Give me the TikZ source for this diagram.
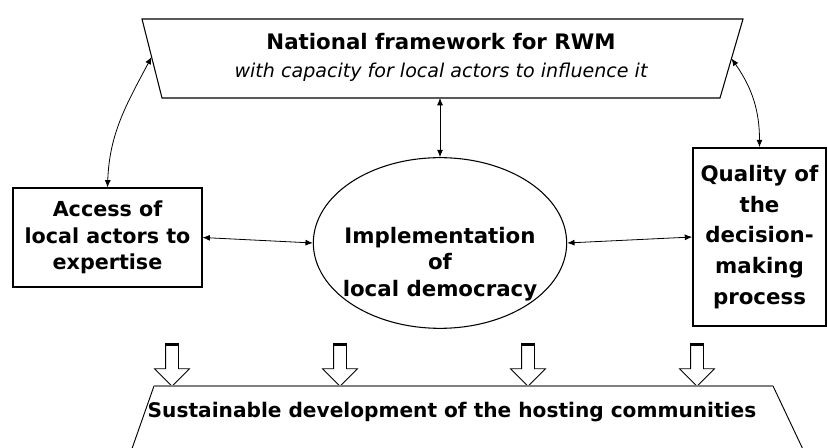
\documentclass[tikz,border=0pt]{standalone}
\usepackage{fontspec}
\setmainfont{DejaVu Sans}
\usetikzlibrary{shapes.geometric,shapes.arrows,arrows.meta,calc}
\begin{document}
\begin{tikzpicture}[x=0.75pt,y=-0.75pt,
    bold/.style={align=center,font=\bfseries\fontsize{15.5}{20}\selectfont},
    box/.style={bold,draw,line width=0.8pt,inner sep=0pt},
    link/.style={{Latex[length=5.5pt,width=4.5pt]}-{Latex[length=5.5pt,width=4.5pt]},line width=0.6pt},
    hollow/.style={single arrow,draw,line width=0.6pt,shape border rotate=270,
      minimum height=30.75pt,inner sep=4.5pt,single arrow head extend=8.25pt}]
  \clip (0,0) rectangle (828,448);
  \coordinate (natTL) at (142,19);
  \coordinate (natTR) at (743,19);
  \coordinate (natBR) at (720,98);
  \coordinate (natBL) at (162,98);
  \draw[line width=0.8pt] (natTL) -- (natTR) -- (natBR) -- (natBL) -- cycle;
  \coordinate (natL) at ($(natTL)!0.48!(natBL)$);
  \coordinate (natR) at ($(natTR)!0.5!(natBR)$);
  \coordinate (natB) at (440,98);
  \node[align=center] (nat) at (441,57)
    {{\bfseries\fontsize{16}{20}\selectfont National framework for RWM}\\[9pt]
     {\itshape\fontsize{14.3}{20}\selectfont with capacity for local actors to influence it}};
  \node[box,minimum width=141.75pt,minimum height=74.25pt] (acc) at (107.5,237.5)
    {Access of\\local actors to\\expertise};
  \node[draw,ellipse,line width=0.8pt,minimum width=190pt,minimum height=128pt] (impl) at (440,243) {};
  \node[bold,font=\bfseries\fontsize{16}{20}\selectfont] (impltxt) at (440,264)
    {Implementation\\of\\local democracy};
  \node[box,line width=1.3pt,minimum width=99.75pt,minimum height=133.5pt,
    font=\bfseries\fontsize{16}{23}\selectfont] (qual) at (759.5,237)
    {Quality of\\the\\decision-\\making\\process};
  \draw[link] (acc.east) -- (impl.west);
  \draw[link] (impl.east) -- (qual.west);
  \draw[link] (natB) -- (impl.north);
  \draw[link] (acc.north) to[out=88,in=-118] (natL);
  \draw[link] (natR) to[out=-55,in=90] (qual.north);
  \foreach \x/\n in {172/a,340/b,528/c,697/d}{
    \node[hollow] (down\n) at (\x,362.5) {};
    \draw[line width=2pt] (down\n.before tail) -- (down\n.after tail);
  }
  \coordinate (susTL) at (154,386);
  \coordinate (susTR) at (773,386);
  \coordinate (susBL) at (128,460);
  \coordinate (susBR) at (808,460);
  \draw[line width=0.7pt] (susBL) -- (susTL) (susTR) -- (susBR);
  \draw[gray,line width=1.5pt] (susTL) -- (susTR);
  \node[bold,font=\bfseries\fontsize{15.1}{20}\selectfont] (sus) at (452,412)
    {Sustainable development of the hosting communities};
\end{tikzpicture}
\end{document}
